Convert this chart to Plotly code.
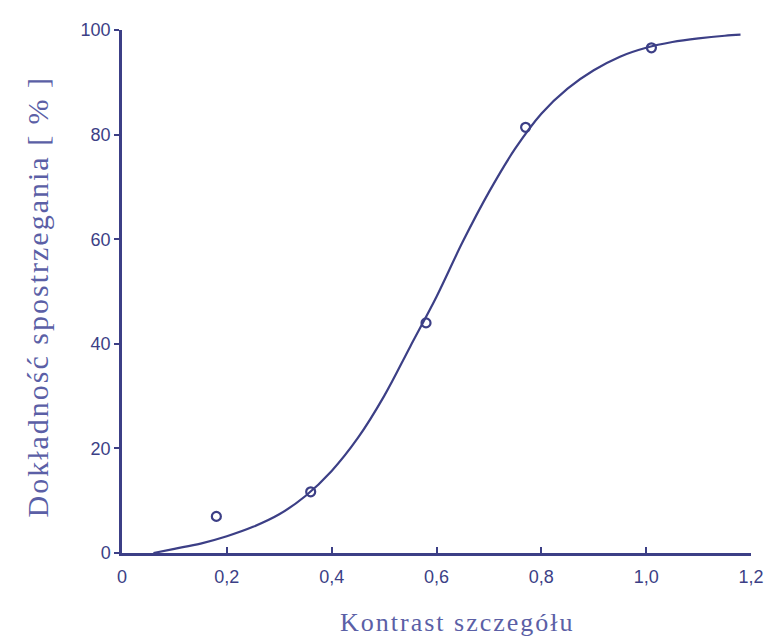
import plotly.graph_objects as go

# Measured points
point_x = [0.18, 0.36, 0.58, 0.77, 1.01]
point_y = [7, 11.7, 44, 81.4, 96.6]

# Fitted curve, values
curve_x = [0.06, 0.10, 0.15, 0.20, 0.25, 0.30, 0.35, 0.40, 0.45, 0.50, 0.55, 0.60, 0.65, 0.70,
           0.75, 0.80, 0.85, 0.90, 0.95, 1.00, 1.05, 1.10, 1.15, 1.18]
curve_y = [0.0, 0.8, 1.8, 3.2, 5.0, 7.4, 10.9, 15.7, 22.0, 30.0, 39.5, 49.0, 59.5, 69.0,
           77.3, 84.0, 88.8, 92.3, 94.9, 96.6, 97.7, 98.4, 98.9, 99.1]

x_tickvals = [0, 0.2, 0.4, 0.6, 0.8, 1.0, 1.2]
x_ticktext = ["0", "0,2", "0,4", "0,6", "0,8", "1,0", "1,2"]
y_tickvals = [0, 20, 40, 60, 80, 100]
y_ticktext = ["0", "20", "40", "60", "80", "100"]

x_title = "Kontrast szczegółu"
y_title = "Dokładność spostrzegania [ % ]"

navy = "#3c3f86"
title_col = "#5b5fa6"

fig = go.Figure()
fig.add_trace(go.Scatter(x=curve_x, y=curve_y, mode="lines",
                         line=dict(color=navy, width=2.2, shape="spline", smoothing=1.0),
                         cliponaxis=False, hoverinfo="skip"))
fig.add_trace(go.Scatter(x=point_x, y=point_y, mode="markers",
                         marker=dict(symbol="circle-open", size=9, color=navy, line=dict(width=2.2, color=navy)),
                         cliponaxis=False))

fig.add_annotation(text='<span style="letter-spacing:2px">' + x_title + '</span>',
                   xref="x", yref="paper", x=0.64, y=-0.133, xanchor="center", yanchor="middle",
                   showarrow=False, font=dict(family="Liberation Serif", size=26, color=title_col))
fig.add_annotation(text='<span style="letter-spacing:2px">' + y_title + '</span>',
                   xref="paper", yref="paper", x=-0.134, y=0.49, xanchor="center", yanchor="middle",
                   textangle=-90, showarrow=False,
                   font=dict(family="Liberation Serif", size=30, color=title_col))

fig.update_layout(
    width=768, height=631,
    margin=dict(l=114, r=19, t=17, b=86),
    paper_bgcolor="white", plot_bgcolor="white",
    showlegend=False,
    xaxis=dict(range=[0, 1.2], tickvals=x_tickvals, ticktext=x_ticktext,
               showline=True, linecolor=navy, linewidth=2.5, showgrid=False, zeroline=False,
               ticks="inside", ticklen=6, tickwidth=1.5, tickcolor=navy, ticklabelstandoff=6,
               tickfont=dict(family="Liberation Sans", size=18, color=navy)),
    yaxis=dict(range=[0, 100], tickvals=y_tickvals, ticktext=y_ticktext,
               showline=True, linecolor=navy, linewidth=2.5, showgrid=False, zeroline=False,
               ticks="outside", ticklen=5, tickwidth=1.5, tickcolor=navy,
               tickfont=dict(family="Liberation Sans", size=18, color=navy)),
)

fig.write_html("out.html")
